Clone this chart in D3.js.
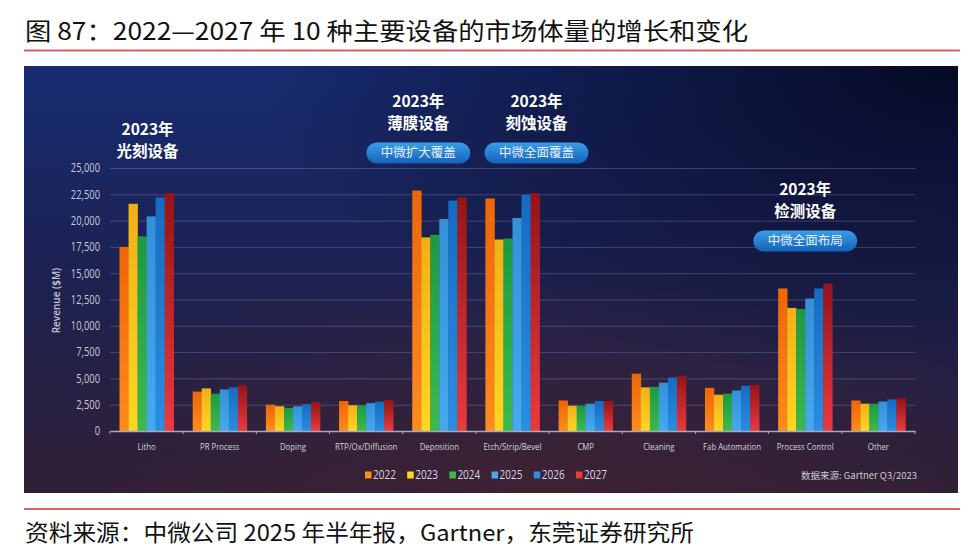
<!DOCTYPE html>
<html>
<head>
<meta charset="utf-8">
<script src="https://cdn.jsdelivr.net/npm/d3@7"></script>
<style>
  html, body { margin: 0; padding: 0; background: #fff; }
  svg { display: block; }
</style>
</head>
<body>
<div id="chart"></div>
<script>
const categories = ["Litho", "PR Process", "Doping", "RTP/Ox/Diffusion", "Deposition", "Etch/Strip/Bevel",
  "CMP", "Cleaning", "Fab Automation", "Process Control", "Other"];
const years = ["2022", "2023", "2024", "2025", "2026", "2027"];

// revenue ($M) per year, same order as categories
const rev2022 = [17500, 3750, 2500, 2850, 22850, 22100, 2900, 5450, 4100, 13550, 2900];
const rev2023 = [21600, 4050, 2350, 2450, 18400, 18200, 2400, 4150, 3450, 11700, 2600];
const rev2024 = [18500, 3550, 2200, 2450, 18650, 18300, 2400, 4200, 3550, 11600, 2600];
const rev2025 = [20400, 3950, 2350, 2650, 20150, 20250, 2600, 4600, 3850, 12600, 2800];
const rev2026 = [22200, 4150, 2550, 2800, 21900, 22450, 2850, 5100, 4300, 13550, 3000];
const rev2027 = [22600, 4350, 2750, 2950, 22200, 22600, 2850, 5250, 4400, 14000, 3100];
const yTicks = [0, 2500, 5000, 7500, 10000, 12500, 15000, 17500, 20000, 22500, 25000];

// callouts above some groups
const calloutCats = ["Litho", "Deposition", "Etch/Strip/Bevel", "Process Control"];
const calloutLines = [["2023年", "光刻设备"], ["2023年", "薄膜设备"], ["2023年", "刻蚀设备"], ["2023年", "检测设备"]];
const calloutPills = [null, "中微扩大覆盖", "中微全面覆盖", "中微全面布局"];

const TITLE = "图 87：2022—2027 年 10 种主要设备的市场体量的增长和变化";
const SOURCE = "资料来源：中微公司 2025 年半年报，Gartner，东莞证券研究所";

const W = 974, H = 558;
const PANEL = { x: 24, y: 66, w: 934, h: 427 };
const PLOT = { left: 110, right: 915, top: 168, bottom: 431 };
const CALLOUT_TOP = [131, 103, 103, 191];
const CALLOUT_DX = [1, -21, 24, 0]; // the two middle callouts are pushed apart so pills don't collide

const seriesValues = [rev2022, rev2023, rev2024, rev2025, rev2026, rev2027];
const barColors = [
  ["#ee650a", "#ff8c1c"],
  ["#f0b016", "#ffd622"],
  ["#1c9a44", "#3dba4c"],
  ["#3590d8", "#46a9ef"],
  ["#146cc2", "#2a8ee2"],
  ["#951418", "#ea3a3e"],
];
const CJK = "'Noto Sans CJK SC', 'Noto Sans', sans-serif";
const LATIN = "'Open Sans', 'Noto Sans', sans-serif";

// squeeze text horizontally to mimic the condensed face of the original
function condense(sel, factor) {
  sel.each(function () {
    const len = this.getComputedTextLength();
    d3.select(this).attr("textLength", len * factor).attr("lengthAdjust", "spacingAndGlyphs");
  });
}

const svg = d3.select("#chart").append("svg")
  .attr("width", W).attr("height", H)
  .attr("viewBox", `0 0 ${W} ${H}`);

const defs = svg.append("defs");

// panel background
const bgV = defs.append("linearGradient").attr("id", "bgV")
  .attr("x1", 0).attr("y1", 0).attr("x2", 0).attr("y2", 1);
bgV.append("stop").attr("offset", "0%").attr("stop-color", "#172c72");
bgV.append("stop").attr("offset", "45%").attr("stop-color", "#1c2254");
bgV.append("stop").attr("offset", "100%").attr("stop-color", "#2e1f36");

const bgR = defs.append("radialGradient").attr("id", "bgR")
  .attr("cx", "100%").attr("cy", "0%").attr("r", "75%");
bgR.append("stop").attr("offset", "0%").attr("stop-color", "#05061c").attr("stop-opacity", 0.9);
bgR.append("stop").attr("offset", "100%").attr("stop-color", "#05061c").attr("stop-opacity", 0);

const bgGlow = defs.append("radialGradient").attr("id", "bgGlow")
  .attr("cx", "55%").attr("cy", "100%").attr("r", "55%");
bgGlow.append("stop").attr("offset", "0%").attr("stop-color", "#4a2430").attr("stop-opacity", 0.55);
bgGlow.append("stop").attr("offset", "100%").attr("stop-color", "#4a2430").attr("stop-opacity", 0);

barColors.forEach(([top, bottom], i) => {
  const g = defs.append("linearGradient").attr("id", `bar${i}`)
    .attr("x1", 0).attr("y1", 0).attr("x2", 0).attr("y2", 1);
  g.append("stop").attr("offset", "0%").attr("stop-color", top);
  g.append("stop").attr("offset", "100%").attr("stop-color", bottom);
});

const pillGrad = defs.append("linearGradient").attr("id", "pill")
  .attr("x1", 0).attr("y1", 0).attr("x2", 0).attr("y2", 1);
pillGrad.append("stop").attr("offset", "0%").attr("stop-color", "#3a9ee8");
pillGrad.append("stop").attr("offset", "100%").attr("stop-color", "#1562b8");

// heading and rules
svg.append("text")
  .attr("x", 25).attr("y", 40)
  .attr("font-family", CJK).attr("font-size", 24).attr("fill", "#111")
  .attr("textLength", 723).attr("lengthAdjust", "spacingAndGlyphs")
  .text(TITLE);

svg.append("line").attr("x1", 24).attr("x2", 960).attr("y1", 50.5).attr("y2", 50.5)
  .attr("stroke", "#d4606a").attr("stroke-width", 2);

["bgV", "bgGlow", "bgR"].forEach(id => {
  svg.append("rect")
    .attr("x", PANEL.x).attr("y", PANEL.y).attr("width", PANEL.w).attr("height", PANEL.h)
    .attr("fill", `url(#${id})`);
});

svg.append("line").attr("x1", 24).attr("x2", 960).attr("y1", 509).attr("y2", 509)
  .attr("stroke", "#d62d2d").attr("stroke-width", 1.5);

svg.append("text")
  .attr("x", 25).attr("y", 541)
  .attr("font-family", CJK).attr("font-size", 22.5).attr("fill", "#111")
  .attr("textLength", 669).attr("lengthAdjust", "spacingAndGlyphs")
  .text(SOURCE);

// scales
const x0 = d3.scaleBand().domain(categories)
  .range([PLOT.left, PLOT.right]).paddingInner(0.26).paddingOuter(0.13);
const x1 = d3.scaleBand().domain(years).range([0, x0.bandwidth()]);
const y = d3.scaleLinear().domain([0, 25000]).range([PLOT.bottom, PLOT.top]);

// grid + y labels
const yAxis = svg.append("g")
  .attr("transform", `translate(${PLOT.left},0)`)
  .call(d3.axisLeft(y).tickValues(yTicks).tickFormat(d3.format(",")).tickSize(-(PLOT.right - PLOT.left)).tickPadding(10));
yAxis.select(".domain").remove();
yAxis.selectAll(".tick line")
  .attr("stroke", "#8c90b8").attr("stroke-opacity", 0.35).attr("stroke-width", 1);
yAxis.selectAll(".tick text")
  .attr("fill", "#c9cad6").attr("font-family", LATIN).attr("font-size", 12)
  .call(condense, 0.78);

svg.append("text")
  .attr("transform", `translate(57,${(PLOT.top + PLOT.bottom) / 2 + 1}) rotate(-90)`)
  .attr("text-anchor", "middle").attr("dominant-baseline", "middle")
  .attr("font-family", LATIN).attr("font-size", 10).attr("font-weight", 600)
  .attr("fill", "#c4c6d4")
  .text("Revenue ($M)");

// bars
const groups = svg.append("g").selectAll("g")
  .data(categories)
  .join("g")
  .attr("transform", d => `translate(${x0(d)},0)`);

groups.selectAll("rect")
  .data((cat, ci) => years.map((yr, si) => ({ yr, si, v: seriesValues[si][ci] })))
  .join("rect")
  .attr("x", d => x1(d.yr))
  .attr("y", d => y(d.v))
  .attr("width", x1.bandwidth() + 0.3)
  .attr("height", d => y(0) - y(d.v))
  .attr("fill", d => `url(#bar${d.si})`);

// x axis
const xAxis = svg.append("g")
  .attr("transform", `translate(0,${PLOT.bottom})`)
  .call(d3.axisBottom(x0).tickSize(0).tickPadding(12));
xAxis.select(".domain").attr("stroke", "#a6a9c0").attr("stroke-width", 1.3);
xAxis.selectAll(".tick text")
  .attr("fill", "#d2d3de").attr("font-family", LATIN).attr("font-size", 9.5)
  .call(condense, 0.82);

const boundaries = categories.map(c => x0(c) - x0.step() * x0.paddingInner() / 2);
boundaries.push(PLOT.right);
svg.append("g").selectAll("line")
  .data(boundaries)
  .join("line")
  .attr("x1", d => d).attr("x2", d => d)
  .attr("y1", PLOT.bottom).attr("y2", PLOT.bottom + 3)
  .attr("stroke", "#a6a9c0").attr("stroke-width", 1);

// callouts
calloutCats.forEach((cat, i) => {
  const cx = x0(cat) + x0.bandwidth() / 2 + CALLOUT_DX[i];
  const g = svg.append("g");
  calloutLines[i].forEach((line, li) => {
    g.append("text")
      .attr("x", cx).attr("y", CALLOUT_TOP[i] + li * 22)
      .attr("text-anchor", "middle").attr("dominant-baseline", "middle")
      .attr("font-family", CJK).attr("font-weight", 700).attr("font-size", 15.5)
      .attr("fill", "#ffffff")
      .text(line);
  });
  if (calloutPills[i]) {
    const py = CALLOUT_TOP[i] + 50;
    g.append("rect")
      .attr("x", cx - 52).attr("y", py - 10.5)
      .attr("width", 104).attr("height", 21).attr("rx", 10.5)
      .attr("fill", "url(#pill)");
    g.append("text")
      .attr("x", cx).attr("y", py + 0.5)
      .attr("text-anchor", "middle").attr("dominant-baseline", "middle")
      .attr("font-family", CJK).attr("font-size", 12.5)
      .attr("fill", "#e8f0fb")
      .text(calloutPills[i]);
  }
});

// legend
const legend = svg.append("g").attr("transform", "translate(365,475)");
const item = legend.selectAll("g")
  .data(years)
  .join("g")
  .attr("transform", (d, i) => `translate(${i * 42.2},0)`);
item.append("rect")
  .attr("x", 0).attr("y", -3.5).attr("width", 6.5).attr("height", 7)
  .attr("fill", (d, i) => barColors[i][1]);
item.append("text")
  .attr("x", 8).attr("y", 0.5)
  .attr("dominant-baseline", "middle")
  .attr("font-family", LATIN).attr("font-size", 13.5)
  .attr("fill", "#d6d7e2")
  .text(d => d)
  .call(condense, 0.74);

svg.append("text")
  .attr("x", 917).attr("y", 476)
  .attr("text-anchor", "end").attr("dominant-baseline", "middle")
  .attr("font-family", CJK).attr("font-size", 9.5)
  .attr("fill", "#c9cad4")
  .text("数据来源: Gartner Q3/2023");
</script>
</body>
</html>
